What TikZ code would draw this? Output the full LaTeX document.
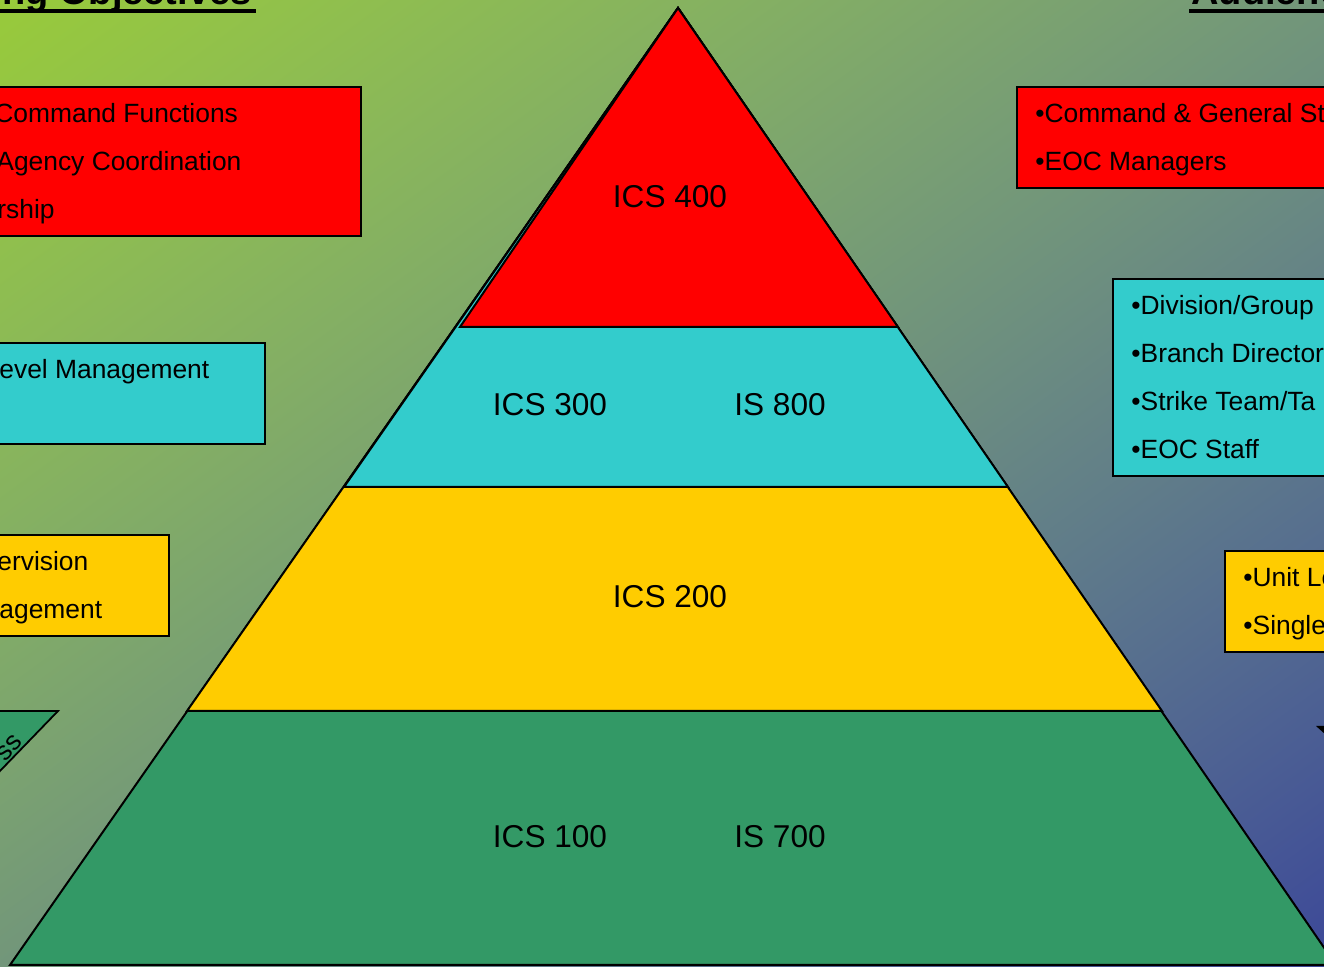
\documentclass[tikz,border=0pt]{standalone}
\usepackage{fontspec}
\setmainfont{Liberation Sans}
\definecolor{icsred}{HTML}{FF0000}
\definecolor{icscyan}{HTML}{33CCCC}
\definecolor{icsyellow}{HTML}{FFCC00}
\definecolor{icsgreen}{HTML}{339966}
% green top left, blue bottom right
\pgfdeclarefunctionalshading{bgfade}{\pgfpoint{0bp}{0bp}}{\pgfpoint{100bp}{100bp}}{}{
  exch 50 exch sub add 100 div
  dup 0 lt {pop 0} if dup 1 gt {pop 1} if
  dup dup mul
  2 copy -32 mul exch 124 mul add 60 add 255 div
  3 1 roll
  2 copy -52 mul exch 182 mul add 72 add 255 div
  3 1 roll
  -68 mul exch -26 mul add 152 add 255 div
}

\begin{document}
\begin{tikzpicture}[x=0.5pt,y=-0.5pt,
  layer/.style={draw=black,line width=1pt,line join=miter},
  lvl/.style={inner sep=0pt,font=\fontsize{15.8}{18}\selectfont},
  box/.style={draw=black,line width=0.9pt},
  item/.style={inner sep=0pt,anchor=base west,font=\fontsize{13.2}{16}\selectfont},
  ttl/.style={inner sep=0pt,font=\bfseries\fontsize{19}{22}\selectfont},
  uline/.style={line width=1.8pt}]
\useasboundingbox (0,0) rectangle (1324,967);
\clip (0,0) rectangle (1324,967);
\shade[shading=bgfade] (0,0) rectangle (1324,967);

% pyramid, stacked from the base up
\filldraw[layer,fill=icsgreen] (678,8) -- (1336,965) -- (10,965) -- cycle;
\filldraw[layer,fill=icsyellow] (678,8) -- (1162,711) -- (187,711) -- cycle;
\filldraw[layer,fill=icscyan] (678,8) -- (1008,487) -- (344,487) -- cycle;
\filldraw[layer,fill=icsred] (678,8) -- (898,327) -- (460,327) -- cycle;

\node[lvl] (l400) at (670,197) {ICS 400};
\node[lvl] (l300) at (550,405) {ICS 300};
\node[lvl] (l800) at (780,405) {IS 800};
\node[lvl] (l200) at (670,597) {ICS 200};
\node[lvl] (l100) at (550,837) {ICS 100};
\node[lvl] (l700) at (780,837) {IS 700};

% titles
\node[ttl,anchor=base east] (tobj) at (252,5) {ing Objectives};
\draw[uline] ([yshift=-3pt]tobj.base west) -- ([yshift=-3pt,xshift=2pt]tobj.base east);
\node[ttl,anchor=base west] (taud) at (1191,5) {Audienc};
\draw[uline] ([yshift=-3pt,xshift=-1pt]taud.base west) -- ([yshift=-3pt]taud.base east);

% objectives (left)
\filldraw[box,fill=icsred] (-20,87) rectangle (361,236);
\node[item] (or1) at (-6,123) {Command Functions};
\node[item] (or2) at (-4,171) {Agency Coordination};
\node[item] (or3) at (-3,219) {rship};
\filldraw[box,fill=icscyan] (-20,343) rectangle (265,444);
\node[item] (oc1) at (-1,379) {evel Management};
\filldraw[box,fill=icsyellow] (-20,535) rectangle (169,636);
\node[item] (oy1) at (-3,571) {ervision};
\node[item] (oy2) at (-1,619) {agement};
\filldraw[box,fill=icsgreen] (-60,711) -- (58,711) -- (-60,833) -- cycle;
\node[item,anchor=east,rotate=47] (og1) at (19,738) {ss};

% audience (right)
\filldraw[box,fill=icsred] (1017,87) rectangle (1400,188);
\node[item] (ar1) at (1035,123) {•Command \& General St};
\node[item] (ar2) at (1035,171) {•EOC Managers};
\filldraw[box,fill=icscyan] (1113,279) rectangle (1400,476);
\node[item] (ac1) at (1131,315) {•Division/Group};
\node[item] (ac2) at (1131,363) {•Branch Director};
\node[item] (ac3) at (1131,411) {•Strike Team/Ta};
\node[item] (ac4) at (1131,459) {•EOC Staff};
\filldraw[box,fill=icsyellow] (1225,551) rectangle (1400,652);
\node[item] (ay1) at (1243,587) {•Unit Le};
\node[item] (ay2) at (1243,635) {•Single};
\fill (1316,726) -- (1326,726) -- (1326,735) -- cycle;
\end{tikzpicture}
\end{document}
